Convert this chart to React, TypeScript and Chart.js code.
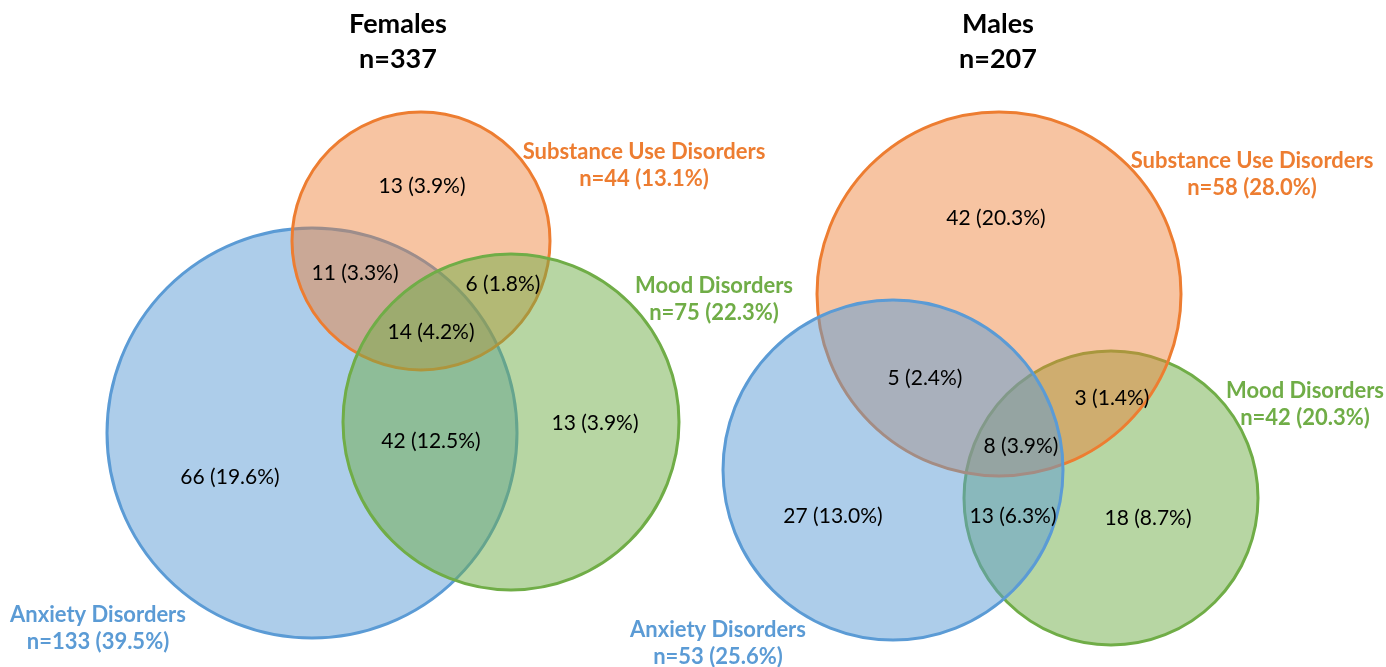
import React, { useEffect, useRef } from 'react';
import { Chart, registerables } from 'chart.js';

Chart.register(...registerables);

// ---------- data ----------
const groupNames = ['Females', 'Males'];
const groupN = [337, 207];

const setNames = ['Substance Use Disorders', 'Mood Disorders', 'Anxiety Disorders'];
const femaleSetN = [44, 75, 133];
const femaleSetPct = [13.1, 22.3, 39.5];
const maleSetN = [58, 42, 53];
const maleSetPct = [28.0, 20.3, 25.6];

// regions: S only, S∩A, S∩M, S∩M∩A, M∩A, M only, A only (females)
const femaleRegionCounts = [13, 11, 6, 14, 42, 13, 66];
const femaleRegionPcts = [3.9, 3.3, 1.8, 4.2, 12.5, 3.9, 19.6];
// regions: S only, S∩A, S∩M, S∩M∩A, M∩A, M only, A only (males)
const maleRegionCounts = [42, 5, 3, 8, 13, 18, 27];
const maleRegionPcts = [20.3, 2.4, 1.4, 3.9, 6.3, 8.7, 13.0];

// ---------- layout (data units of the hidden linear scales) ----------
const W = 1386;
const H = 667;
// circle geometry per set [S, M, A]
const femaleCircles = [
  { x: 421, y: 241, r: 129 },
  { x: 511, y: 422, r: 168 },
  { x: 312, y: 433, r: 205 },
];
const maleCircles = [
  { x: 999, y: 294, r: 182 },
  { x: 1111, y: 498, r: 147 },
  { x: 893, y: 470, r: 170 },
];
// draw order (lower = on top)
const femaleOrder = [2, 1, 3];
const maleOrder = [2, 3, 1];

const femaleRegionPos = [
  [422, 186], [355, 273], [503, 284], [431, 332], [431, 441], [595, 423], [230, 477],
];
const maleRegionPos = [
  [996, 218], [925, 378], [1112, 398], [1021, 446], [1013, 516], [1148, 518], [833, 516],
];
// set label baseline of first line, centre x
const femaleSetLabelPos = [[644, 159], [714, 293], [98, 622]];
const maleSetLabelPos = [[1252, 168], [1305, 398], [718, 637]];
const titlePos = [[398, 33], [998, 33]];

const setStroke = ['#ED7D31', '#70AD47', '#5B9BD5'];
const setFill = ['rgba(237,125,49,0.45)', 'rgba(112,173,71,0.5)', 'rgba(91,155,213,0.5)'];
const FONT = 'Lato, "Open Sans", sans-serif';

function pxRadius(chart: any, r: number) {
  const s = chart.scales.x;
  return Math.abs(s.getPixelForValue(r) - s.getPixelForValue(0));
}

function makeDatasets() {
  const ds: any[] = [];
  const add = (circles: any[], order: number[], prefix: string) => {
    circles.forEach((c, i) => {
      ds.push({
        label: prefix + ' ' + setNames[i],
        data: [{ x: c.x, y: c.y }],
        showLine: false,
        pointRadius: (ctx: any) => pxRadius(ctx.chart, c.r),
        pointHoverRadius: (ctx: any) => pxRadius(ctx.chart, c.r),
        pointBackgroundColor: setFill[i],
        pointBorderColor: setStroke[i],
        pointBorderWidth: 3,
        pointHoverBorderWidth: 3,
        order: order[i],
        clip: false,
      });
    });
  };
  add(femaleCircles, femaleOrder, groupNames[0]);
  add(maleCircles, maleOrder.map((o) => o + 10), groupNames[1]);
  return ds;
}

const textPlugin = {
  id: 'vennText',
  afterDatasetsDraw(chart: any) {
    const ctx = chart.ctx;
    const xs = chart.scales.x;
    const ys = chart.scales.y;
    const X = (v: number) => xs.getPixelForValue(v);
    const Y = (v: number) => ys.getPixelForValue(v);
    ctx.save();
    ctx.textAlign = 'center';

    // titles
    ctx.fillStyle = '#000';
    ctx.font = `bold 27px ${FONT}`;
    ctx.textBaseline = 'alphabetic';
    groupNames.forEach((g, i) => {
      const [tx, ty] = titlePos[i];
      ctx.fillText(g, X(tx), Y(ty));
      ctx.fillText('n=' + groupN[i], X(tx), Y(ty + 35));
    });

    // region labels
    ctx.font = `21px ${FONT}`;
    ctx.textBaseline = 'middle';
    const regions = (counts: number[], pcts: number[], pos: number[][]) => {
      counts.forEach((c, i) => {
        ctx.fillText(`${c} (${pcts[i].toFixed(1)}%)`, X(pos[i][0]), Y(pos[i][1]));
      });
    };
    regions(femaleRegionCounts, femaleRegionPcts, femaleRegionPos);
    regions(maleRegionCounts, maleRegionPcts, maleRegionPos);

    // set labels
    ctx.font = `bold 22px ${FONT}`;
    ctx.textBaseline = 'alphabetic';
    const setLabels = (ns: number[], pcts: number[], pos: number[][]) => {
      ns.forEach((n, i) => {
        ctx.fillStyle = setStroke[i];
        ctx.fillText(setNames[i], X(pos[i][0]), Y(pos[i][1]));
        ctx.fillText(`n=${n} (${pcts[i].toFixed(1)}%)`, X(pos[i][0]), Y(pos[i][1] + 27));
      });
    };
    setLabels(femaleSetN, femaleSetPct, femaleSetLabelPos);
    setLabels(maleSetN, maleSetPct, maleSetLabelPos);
    ctx.restore();
  },
};

export default function App() {
  const ref = useRef<HTMLCanvasElement>(null);
  useEffect(() => {
    document.body.style.margin = '0';
    let chart: Chart | null = null;
    let cancelled = false;
    const ready = Promise.all([
      document.fonts.load(`21px Lato`),
      document.fonts.load(`bold 25px Lato`),
    ]).catch(() => null);
    ready.then(() => {
      if (cancelled || !ref.current) return;
      chart = new Chart(ref.current, {
        type: 'scatter',
        data: { datasets: makeDatasets() },
        options: {
          responsive: false,
          animation: false,
          devicePixelRatio: 1,
          events: [],
          layout: { padding: 0 },
          plugins: { legend: { display: false }, tooltip: { enabled: false }, title: { display: false } },
          scales: {
            x: { type: 'linear', min: 0, max: W, display: false },
            y: { type: 'linear', min: 0, max: H, reverse: true, display: false },
          },
        },
        plugins: [textPlugin],
      } as any);
    });
    return () => {
      cancelled = true;
      if (chart) chart.destroy();
    };
  }, []);
  return (
    <div style={{ position: 'absolute', left: 0, top: 0, width: W, height: H, background: '#fff' }}>
      <canvas ref={ref} width={W} height={H} style={{ width: W, height: H, display: 'block' }} />
    </div>
  );
}
